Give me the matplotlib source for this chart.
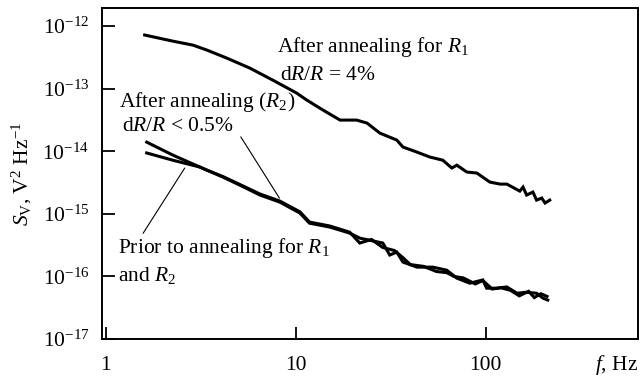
import numpy as np
import matplotlib.pyplot as plt
from matplotlib.ticker import FixedLocator, NullLocator, LogFormatterSciNotation

plt.rcParams['font.family'] = 'Liberation Serif'
plt.rcParams['mathtext.fontset'] = 'custom'
plt.rcParams['mathtext.rm'] = 'Liberation Serif'
plt.rcParams['mathtext.it'] = 'Liberation Serif:italic'
plt.rcParams['font.size'] = 15.5

# after annealing for R1, dR/R = 4%
f_r1 = [1.60, 2.25, 2.87, 3.40, 4.33, 5.73, 7.56, 10.1, 11.4, 13.9, 17.1, 20.9, 23.7,
        27.7, 34.0, 36.6, 43.4, 50.7, 59.4, 66.2, 70.4, 79.4, 89.7, 105, 119, 129,
        151, 157, 164, 177, 185, 197, 205, 217]
s_r1 = [7.2e-13, 5.75e-13, 4.97e-13, 4.14e-13, 3.08e-13, 2.13e-13, 1.37e-13, 8.5e-14,
        6.6e-14, 4.55e-14, 3.15e-14, 3.15e-14, 2.82e-14, 1.95e-14, 1.51e-14, 1.17e-14,
        9.7e-15, 8.1e-15, 7.2e-15, 5.4e-15, 6.0e-15, 4.66e-15, 4.49e-15, 3.22e-15,
        2.99e-15, 2.99e-15, 2.31e-15, 2.68e-15, 2.0e-15, 2.23e-15, 1.66e-15, 1.79e-15,
        1.49e-15, 1.66e-15]

# after annealing (R2), dR/R < 0.5%
f_r2 = [1.64, 2.25, 3.40, 4.13, 5.07, 6.47, 8.24, 10.5, 11.8, 15.1, 19.2, 21.7, 28.7,
        31.2, 34.0, 36.6, 43.4, 52.6, 62.3, 70.4, 82.4, 96.4, 101, 114, 129, 146,
        164, 185, 200, 212]
s_r2 = [1.40e-14, 8.7e-15, 5.0e-15, 3.87e-15, 2.88e-15, 2.0e-15, 1.54e-15, 1.03e-15,
        7.1e-16, 6.15e-16, 4.93e-16, 4.1e-16, 3.42e-16, 2.2e-16, 2.45e-16, 1.7e-16,
        1.41e-16, 1.41e-16, 1.26e-16, 9.4e-17, 7.8e-17, 8.8e-17, 6.5e-17, 6.5e-17,
        6.8e-17, 5.4e-17, 5.6e-17, 5.4e-17, 4.5e-17, 4.2e-17]

# prior to annealing for R1 and R2
f_pr = [1.64, 2.25, 3.12, 3.40, 4.13, 5.07, 6.47, 8.24, 10.5, 11.8, 15.1, 19.2, 21.7,
        25.0, 28.7, 33.0, 36.6, 40.0, 47.0, 55.0, 62.3, 68.0, 76.0, 88.0, 96.4, 108,
        120, 135, 150, 168, 180, 195, 210]
s_pr = [9.4e-15, 7.2e-15, 5.6e-15, 5.0e-15, 3.95e-15, 2.95e-15, 2.08e-15, 1.60e-15,
        1.08e-15, 7.4e-16, 6.4e-16, 5.1e-16, 3.42e-16, 3.9e-16, 2.9e-16, 2.6e-16,
        2.0e-16, 1.55e-16, 1.45e-16, 1.2e-16, 1.15e-16, 1.0e-16, 9.5e-17, 7.6e-17,
        8.6e-17, 6.3e-17, 6.6e-17, 6.0e-17, 4.9e-17, 5.8e-17, 4.6e-17, 5.3e-17, 4.8e-17]

x_ticks = [1, 10, 100]
x_ticklabels = ['1', '10', '100']
y_ticks = [1e-17, 1e-16, 1e-15, 1e-14, 1e-13, 1e-12]

fig = plt.figure(figsize=(6.41, 3.78), dpi=100)
ax = fig.add_axes([0.159, 0.103, 0.836, 0.876])

for f, s in [(f_r1, s_r1), (f_r2, s_r2), (f_pr, s_pr)]:
    ax.plot(f, s, color='black', lw=2.2, solid_joinstyle='miter')

ax.set_xscale('log')
ax.set_yscale('log')
ax.set_xlim(0.953, 631)
ax.set_ylim(1e-17, 1.95e-12)

ax.xaxis.set_major_locator(FixedLocator(x_ticks))
ax.set_xticklabels(x_ticklabels)
ax.xaxis.set_minor_locator(NullLocator())
ax.yaxis.set_major_locator(FixedLocator(y_ticks))
ax.yaxis.set_major_formatter(LogFormatterSciNotation())
ax.yaxis.set_minor_locator(NullLocator())
ax.tick_params(direction='in', length=9, width=1.3, top=False, right=False)
ax.tick_params(axis='x', pad=12)
ax.tick_params(axis='y', pad=9)
for sp in ax.spines.values():
    sp.set_linewidth(1.4)

ax.set_ylabel(r'$S_{\rm V}$, V$^2$ Hz$^{-1}$', labelpad=6)
ax.text(0.961, -0.079, r'$f$, Hz', transform=ax.transAxes, ha='center', va='center')

# annotations
ax.text(7.94, 4.6e-13, r'After annealing for $R_1$', va='center', ha='left')
ax.text(8.24, 1.65e-13, r'd$R/R$ = 4%', va='center', ha='left')
ax.text(1.17, 6.2e-14, r'After annealing ($R_2$)', va='center', ha='left')
ax.text(1.21, 2.45e-14, r'd$R/R$ < 0.5%', va='center', ha='left')
ax.text(1.156, 2.8e-16, r'Prior to annealing for $R_1$', va='center', ha='left')
ax.text(1.156, 1.05e-16, r'and $R_2$', va='center', ha='left')
ax.annotate('', xy=(8.2, 1.78e-15), xytext=(5.13, 1.7e-14),
            arrowprops=dict(arrowstyle='-', color='black', lw=0.8, shrinkA=0, shrinkB=0))
ax.annotate('', xy=(2.6, 5.4e-15), xytext=(1.57, 4.9e-16),
            arrowprops=dict(arrowstyle='-', color='black', lw=0.8, shrinkA=0, shrinkB=0))

fig.savefig('out.png', dpi=100)
